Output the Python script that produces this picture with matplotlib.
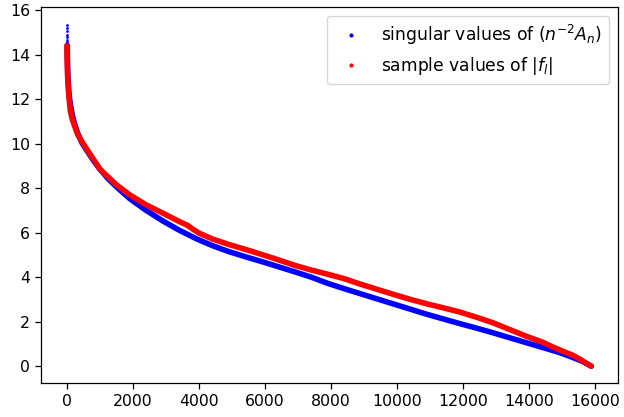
import numpy as np
import matplotlib
matplotlib.use("Agg")
import matplotlib.pyplot as plt
from matplotlib.lines import Line2D

# first few singular values (isolated dots near index 0)
head_idx = [0, 1, 2, 3, 4, 5, 6, 8]
head_sing = [15.35, 15.2, 15.05, 14.9, 14.78, 14.65, 14.55, 14.42]

# singular values of n^-2 A_n
idx_sing = [8, 15, 30, 60, 100, 160, 230, 330, 450, 600, 800, 1000, 1250,
            1500, 1900, 2400, 2900, 3400, 3900, 4400, 4900, 5400, 5900,
            6400, 6900, 7400, 7900, 8400, 8900, 9400, 9900, 10400, 10900,
            11400, 11900, 12400, 12900, 13400, 13900, 14400, 14900, 15300,
            15600, 15875]
sing_vals = [14.42, 13.9, 13.0, 12.3, 11.8, 11.3, 10.9, 10.45, 10.05, 9.7,
             9.25, 8.85, 8.42, 8.06, 7.53, 7.0, 6.53, 6.11, 5.74, 5.42, 5.15,
             4.92, 4.7, 4.47, 4.24, 4.0, 3.72, 3.48, 3.25, 3.02, 2.79, 2.56,
             2.33, 2.12, 1.91, 1.71, 1.5, 1.28, 1.06, 0.84, 0.62, 0.4, 0.22,
             0.0]

# sample values of |f_l|
idx_samp = [0, 3, 8, 15, 30, 60, 100, 160, 230, 330, 450, 600, 800, 1000,
            1250, 1500, 1900, 2400, 2900, 3400, 3650, 3800, 4000, 4400, 4900,
            5400, 5900, 6400, 6900, 7400, 7900, 8400, 8900, 9400, 9900,
            10400, 10900, 11400, 11900, 12400, 12900, 13400, 13900, 14400,
            14700, 15000, 15300, 15550, 15700, 15875]
samp_vals = [14.4, 14.0, 13.6, 13.2, 12.7, 12.1, 11.5, 11.1, 10.8, 10.4,
             10.1, 9.75, 9.3, 8.85, 8.5, 8.15, 7.7, 7.25, 6.88, 6.5, 6.33,
             6.17, 5.98, 5.72, 5.47, 5.25, 5.02, 4.78, 4.53, 4.32, 4.13, 3.93,
             3.68, 3.45, 3.22, 3.0, 2.8, 2.62, 2.43, 2.2, 1.95, 1.65, 1.35,
             1.08, 0.87, 0.68, 0.5, 0.3, 0.15, 0.0]

fs = 11.3
fig = plt.figure(figsize=(6.24, 4.17), dpi=100)
ax = fig.add_axes([40.7 / 624, (417 - 383.3) / 417,
                   (617.5 - 40.7) / 624, (383.3 - 7.3) / 417])

ax.scatter(head_idx, head_sing, s=4, color='blue', linewidths=0)
ax.plot(idx_sing, sing_vals, color='blue', lw=4, solid_capstyle='round')
ax.plot(idx_samp, samp_vals, color='red', lw=4, solid_capstyle='round')

ax.set_xlim(-794, 16669)
ax.set_ylim(-0.77, 16.13)
ax.set_xticks(np.arange(0, 16001, 2000))
ax.set_yticks(np.arange(0, 17, 2))
ax.tick_params(labelsize=fs, length=4, width=0.9)
for sp in ax.spines.values():
    sp.set_linewidth(0.9)

handles = [Line2D([], [], marker='o', ls='none', color='blue', markersize=2),
           Line2D([], [], marker='o', ls='none', color='red', markersize=2)]
ax.legend(handles, [r'singular values of $(n^{-2}A_n)$',
                    r'sample values of $|f_l|$'],
          loc='upper right', fontsize=12.3)

fig.savefig('out.png', dpi=100)
